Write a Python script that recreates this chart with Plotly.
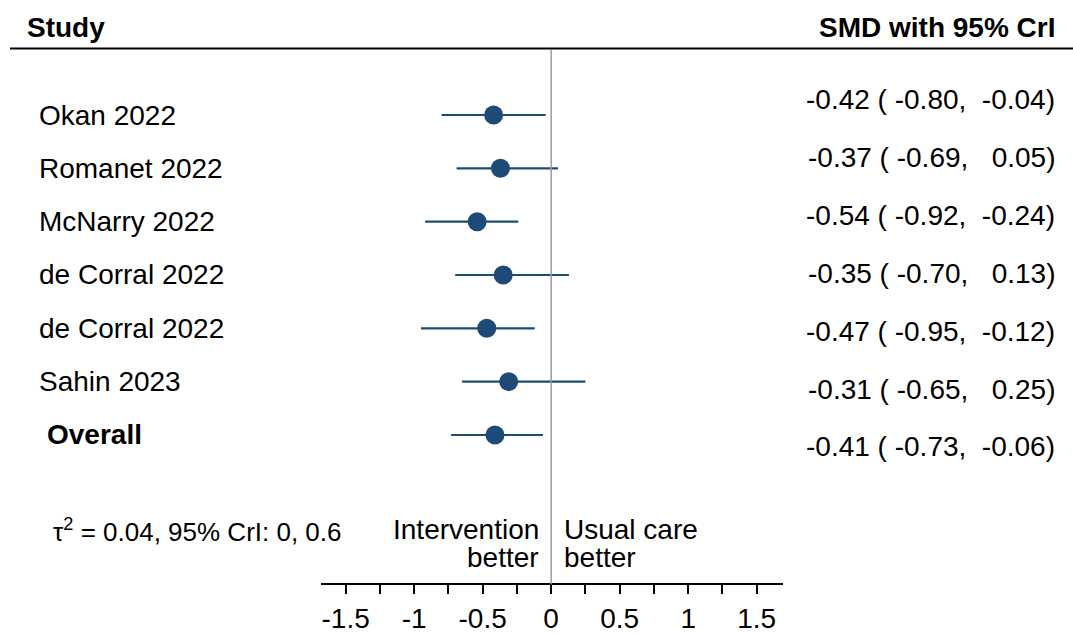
import plotly.graph_objects as go

studies = ["Okan 2022", "Romanet 2022", "McNarry 2022", "de Corral 2022",
           "de Corral 2022", "Sahin 2023", "Overall"]
smd = [-0.42, -0.37, -0.54, -0.35, -0.47, -0.31, -0.41]
lo = [-0.80, -0.69, -0.92, -0.70, -0.95, -0.65, -0.73]
hi = [-0.04, 0.05, -0.24, 0.13, -0.12, 0.25, -0.06]
major_ticks = [-1.5, -1, -0.5, 0, 0.5, 1, 1.5]
major_labels = ["-1.5", "-1", "-0.5", "0", "0.5", "1", "1.5"]
minor_ticks = [-1.25, -0.75, -0.25, 0.25, 0.75, 1.25]
tau_text = "τ<sup>2</sup> = 0.04, 95% CrI: 0, 0.6"
left_note = ["Intervention", "better"]
right_note = ["Usual care", "better"]

W, H = 1073, 635
NAVY = "#1d4a76"
FONT = "Liberation Sans, Arial, sans-serif"
FS = 28
rows = list(range(len(studies)))

fig = go.Figure()
fig.add_trace(go.Scatter(
    x=smd, y=rows, mode="markers",
    marker=dict(size=19, color=NAVY),
    error_x=dict(type="data", symmetric=False,
                 array=[h - m for h, m in zip(hi, smd)],
                 arrayminus=[m - l for m, l in zip(smd, lo)],
                 width=0, thickness=2.2, color=NAVY),
    showlegend=False, hoverinfo="skip"))

row0, row_step = 115, 53.33
fig.update_yaxes(visible=False, range=[(H - row0) / row_step, -row0 / row_step],
                 domain=[0, 1], fixedrange=True)
x_left_px, x_right_px = 320.7, 782.7
fig.update_xaxes(range=[-1.682, 1.69], domain=[x_left_px / W, x_right_px / W],
                 anchor="free", position=1 - 584.3 / H,
                 showline=True, linecolor="black", linewidth=1.5,
                 ticks="outside", ticklen=9, tickwidth=1.5, tickcolor="black",
                 tickvals=major_ticks, ticktext=major_labels,
                 tickfont=dict(size=FS, color="black", family=FONT),
                 minor=dict(tickvals=minor_ticks, ticks="outside", ticklen=9,
                            tickwidth=1.5, tickcolor="black", showgrid=False),
                 showgrid=False, zeroline=False)

fig.add_shape(type="line", xref="x", yref="paper", x0=0, x1=0,
              y0=1 - 584.3 / H, y1=1 - 50 / H, line=dict(color="#9a9a9a", width=1.5))
fig.add_shape(type="line", xref="paper", yref="paper", x0=10 / W, x1=1,
              y0=1 - 48.5 / H, y1=1 - 48.5 / H, line=dict(color="black", width=2))

ann = []
ann.append(dict(text="<b>Study</b>", x=25 / W, y=1 - 27 / H, xanchor="left"))
ann.append(dict(text="<b>SMD with 95% CrI</b>", x=1057 / W, y=1 - 27 / H, xanchor="right"))


def fmt(v):
    s = f"{v:.2f}"
    return ("\u00a0" + s) if v >= 0 else s


for i, (s, m, l, h) in enumerate(zip(studies, smd, lo, hi)):
    if s == "Overall":
        ann.append(dict(text="<b>Overall</b>", x=45 / W, y=i, yref="y", xanchor="left"))
    else:
        ann.append(dict(text=s, x=37 / W, y=i, yref="y", xanchor="left"))
    rt = f"{fmt(m)}\u00a0(\u00a0{fmt(l)},\u00a0\u00a0{fmt(h)})"
    ann.append(dict(text=rt, x=1057 / W, y=1 - (100 + 57.8 * i) / H, xanchor="right"))

ann.append(dict(text=tau_text, x=51 / W, y=1 - 530 / H, xanchor="left",
                font=dict(size=26, color="black", family=FONT)))
for k, (lt, rt) in enumerate(zip(left_note, right_note)):
    yy = 1 - (529 + 28 * k) / H
    ann.append(dict(text=lt, x=541 / W, y=yy, xanchor="right"))
    ann.append(dict(text=rt, x=562 / W, y=yy, xanchor="left"))

for a in ann:
    a.setdefault("xref", "paper")
    a.setdefault("yref", "paper")
    a.setdefault("yanchor", "middle")
    a.setdefault("showarrow", False)
    a.setdefault("font", dict(size=FS, color="black", family=FONT))
    fig.add_annotation(**a)

fig.update_layout(width=W, height=H, margin=dict(l=0, r=0, t=0, b=0),
                  paper_bgcolor="white", plot_bgcolor="white",
                  font=dict(family=FONT, color="black"))
fig.write_html("out.html")
